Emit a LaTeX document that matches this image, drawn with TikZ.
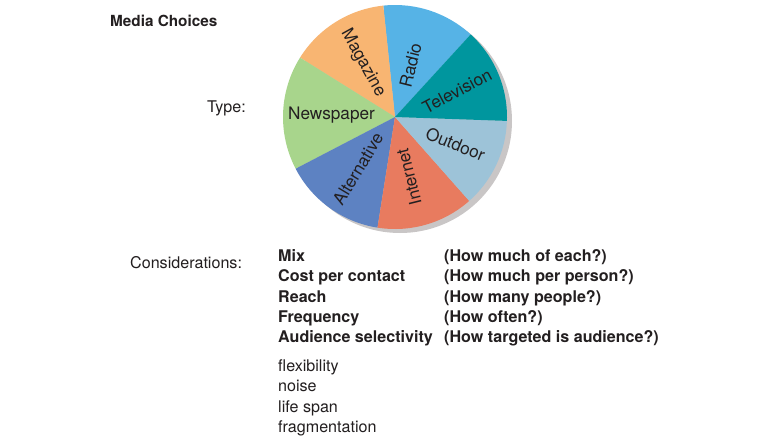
\documentclass[tikz,border=0pt]{standalone}
\usepackage{fontspec}
\setmainfont{TeX Gyre Heros}
\definecolor{cMag}{HTML}{F8B572}
\definecolor{cRad}{HTML}{56B3E6}
\definecolor{cTel}{HTML}{00969E}
\definecolor{cOut}{HTML}{9DC3D8}
\definecolor{cInt}{HTML}{E87B5F}
\definecolor{cAlt}{HTML}{5D82C2}
\definecolor{cNew}{HTML}{A8D58C}
\definecolor{cShadow}{HTML}{C9C6C6}
\definecolor{ink}{HTML}{231F20}
\tikzset{
  txt/.style={inner sep=0pt, anchor=base west, text=ink, font=\fontsize{16.1}{19}\selectfont},
  btxt/.style={txt, font=\bfseries\fontsize{16.1}{19}\selectfont},
  slicelbl/.style={inner sep=0pt, anchor=center, text=ink, font=\fontsize{17.2}{20}\selectfont},
}
\newcommand{\pieslice}[3]{\fill[#3] (C) -- ++(#1:112pt) arc[start angle=#1, end angle=#2, radius=112pt] -- cycle;}
\begin{document}
\begin{tikzpicture}[x=1pt,y=1pt]
\useasboundingbox (0,0) rectangle (777,-440);
\fill[white] (0,0) rectangle (777,-440);
% pie
\coordinate (C) at (395,-117);
\coordinate (S) at (400,-121);
\fill[cShadow] (S) circle[radius=112pt];
\pieslice{47.5}{96}{cRad}
\pieslice{96}{148}{cMag}
\pieslice{148}{207.5}{cNew}
\pieslice{207.5}{261}{cAlt}
\pieslice{261}{311.5}{cInt}
\pieslice{311.5}{358}{cOut}
\pieslice{-2}{47.5}{cTel}
% slice labels
\node[slicelbl, rotate=-61] (mag) at (363,-63) {Magazine};
\node[slicelbl, rotate=76] (rad) at (410.5,-65) {Radio};
\node[slicelbl, rotate=28] (tel) at (457,-91) {Television};
\node[slicelbl, rotate=-22] (out) at (455.5,-144) {Outdoor};
\node[slicelbl, rotate=104] (int) at (409,-177) {Internet};
\node[slicelbl, rotate=59] (alt) at (358,-169) {Alternative};
\node[slicelbl] (new) at (331.5,-115) {Newspaper};
% title and labels
\node[btxt, font=\bfseries\fontsize{15.3}{18}\selectfont] (title) at (110,-26) {Media Choices};
\node[txt, anchor=base east] (type) at (246,-112) {Type:};
\node[txt] (cons) at (130,-268) {Considerations:};
% considerations
\node[btxt] (mix) at (278,-261) {Mix};
\node[btxt] (cost) at (278,-281.5) {Cost per contact};
\node[btxt] (reach) at (278,-302) {Reach};
\node[btxt] (freq) at (278,-322.3) {Frequency};
\node[btxt] (aud) at (278,-342.7) {Audience selectivity};
\node[btxt] (qmix) at (444,-261) {(How much of each?)};
\node[btxt] (qcost) at (444,-281.5) {(How much per person?)};
\node[btxt] (qreach) at (444,-302) {(How many people?)};
\node[btxt] (qfreq) at (444,-322.3) {(How often?)};
\node[btxt] (qaud) at (444,-342.7) {(How targeted is audience?)};
\node[txt] (flex) at (278,-371) {flexibility};
\node[txt] (noise) at (278,-391.5) {noise};
\node[txt] (life) at (278,-412) {life span};
\node[txt] (frag) at (278,-432.5) {fragmentation};
\end{tikzpicture}
\end{document}
